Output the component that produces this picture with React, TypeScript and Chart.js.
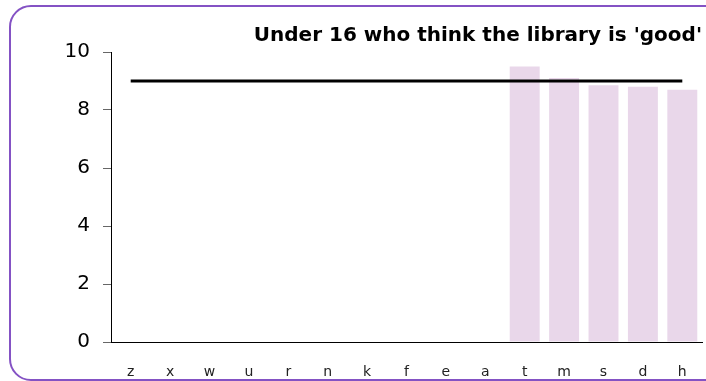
import React, { useEffect, useRef } from "react";
import { Chart, registerables } from "chart.js";

Chart.register(...registerables);

const categories = ["z", "x", "w", "u", "r", "n", "k", "f", "e", "a", "t", "m", "s", "d", "h"];
const scores = [null, null, null, null, null, null, null, null, null, null, 9.5, 9.1, 8.85, 8.8, 8.7];
const benchmark = [9, 9, 9, 9, 9, 9, 9, 9, 9, 9, 9, 9, 9, 9, 9];
const yTicks = [0, 2, 4, 6, 8, 10];
const titleText = "Under 16 who think the library is 'good'";

export default function App() {
  const ref = useRef<HTMLCanvasElement | null>(null);
  useEffect(() => {
    document.body.style.margin = "0";
    document.body.style.overflow = "hidden";
    const ctx = ref.current!;
    const chart = new Chart(ctx, {
      type: "bar",
      data: {
        labels: categories,
        datasets: [
          {
            type: "line",
            data: benchmark,
            borderColor: "#000",
            borderWidth: 3,
            pointRadius: 0,
            fill: false,
            order: 0,
          } as any,
          {
            type: "bar",
            data: scores,
            backgroundColor: "rgb(233,215,234)",
            categoryPercentage: 0.8,
            barPercentage: 0.95,
            order: 1,
          },
        ],
      },
      options: {
        animation: false,
        responsive: false,
        maintainAspectRatio: false,
        layout: { autoPadding: false, padding: { left: 0, right: 4, top: 24, bottom: 0 } },
        plugins: {
          legend: { display: false },
          tooltip: { enabled: false },
          title: {
            display: true,
            text: titleText,
            align: "end",
            color: "#000",
            font: { family: "DejaVu Sans", size: 20, weight: "bold", lineHeight: 1.2 },
            padding: { top: 0, bottom: 4 },
          },
        },
        scales: {
          x: {
            grid: { display: false, drawTicks: false },
            border: { display: true, color: "#000", width: 1 },
            afterFit: (axis: any) => {
              axis.height = 39;
              axis.paddingLeft = 0;
              axis.paddingRight = 0;
            },
            ticks: {
              color: "#222",
              font: { family: "DejaVu Sans", size: 14 },
              padding: 22,
              maxRotation: 0,
              autoSkip: false,
            },
          },
          y: {
            min: 0,
            max: 10,
            afterBuildTicks: (axis: any) => {
              axis.ticks = yTicks.map((v) => ({ value: v }));
            },
            afterFit: (axis: any) => {
              axis.width = 111;
            },
            grid: {
              drawOnChartArea: false,
              drawTicks: true,
              tickLength: 8,
              color: "#666",
            },
            border: { display: true, color: "#000", width: 1 },
            ticks: {
              color: "#000",
              font: { family: "DejaVu Sans", size: 20 },
              padding: 13,
            },
          },
        },
      },
    });
    return () => chart.destroy();
  }, []);
  return (
    <div style={{ position: "relative", width: 706, height: 381, overflow: "hidden" }}>
      <canvas ref={ref} width={706} height={381} style={{ position: "absolute", left: 0, top: 0 }} />
      <div
        style={{
          position: "absolute",
          left: 9,
          top: 5,
          width: 720,
          height: 372,
          border: "2px solid #8452c4",
          borderRadius: 22,
          pointerEvents: "none",
        }}
      />
    </div>
  );
}
